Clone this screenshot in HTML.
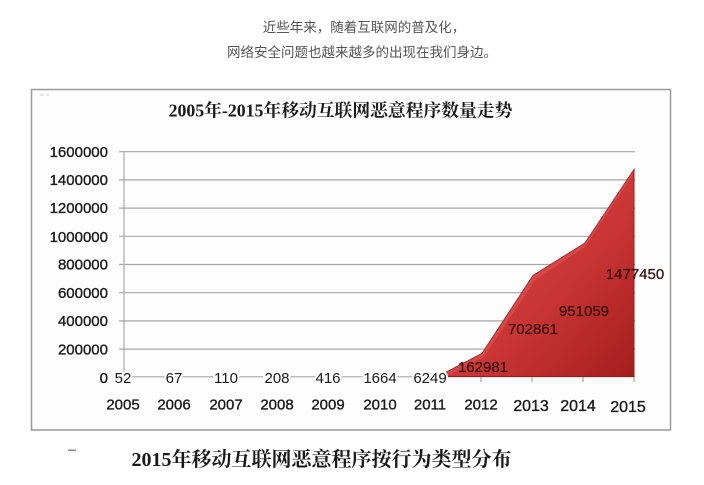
<!DOCTYPE html>
<html><head><meta charset="utf-8"><style>
html,body{margin:0;padding:0;background:#fff;}
body{width:704px;height:485px;overflow:hidden;position:relative;}
svg{position:absolute;left:0;top:0;}
</style></head><body>
<svg width="704" height="485" viewBox="0 0 704 485" xmlns="http://www.w3.org/2000/svg">
<defs>
<linearGradient id="rg" x1="0" y1="0" x2="1" y2="1">
<stop offset="0" stop-color="#df4d4d"/>
<stop offset="0.6" stop-color="#c93434"/>
<stop offset="1" stop-color="#a51d1d"/>
</linearGradient>
</defs>
<text x="364" y="32" text-anchor="middle" font-family="'Liberation Sans','Noto Sans CJK SC',sans-serif" font-size="13.5" fill="#555">近些年来，随着互联网的普及化，</text>
<text x="362" y="57" text-anchor="middle" font-family="'Liberation Sans','Noto Sans CJK SC',sans-serif" font-size="13.5" fill="#555">网络安全问题也越来越多的出现在我们身边。</text>

<rect x="31.5" y="89.5" width="639" height="340.5" fill="#fdfdfd" stroke="#9a9a9a" stroke-width="1.5"/>
<rect x="40" y="94" width="4" height="1.5" fill="#ddd"/><rect x="46" y="94" width="3" height="1.5" fill="#ddd"/>

<text x="340.5" y="116.5" text-anchor="middle" font-family="'Liberation Serif','Noto Serif CJK SC',serif" font-weight="bold" font-size="17.8" fill="#1a1a1a">2005年-2015年移动互联网恶意程序数量走势</text>

<g stroke="#a8a8a8" stroke-width="1.2">
<line x1="119" y1="151.7" x2="635" y2="151.7"/>
<line x1="119" y1="179.9" x2="635" y2="179.9"/>
<line x1="119" y1="208.1" x2="635" y2="208.1"/>
<line x1="119" y1="236.3" x2="635" y2="236.3"/>
<line x1="119" y1="264.5" x2="635" y2="264.5"/>
<line x1="119" y1="292.7" x2="635" y2="292.7"/>
<line x1="119" y1="320.9" x2="635" y2="320.9"/>
<line x1="119" y1="349.1" x2="635" y2="349.1"/>
<line x1="119" y1="376.8" x2="635" y2="376.8"/>
<line x1="124" y1="151.7" x2="124" y2="377"/>
<line x1="481" y1="377" x2="481" y2="382"/>
<line x1="532" y1="377" x2="532" y2="382"/>
<line x1="583" y1="377" x2="583" y2="382"/>
<line x1="634" y1="377" x2="634" y2="382"/>
</g>

<polygon points="438,376.5 482,353.5 533,275.5 585,243 634,169.5 634,376.5" fill="url(#rg)" stroke="#9a1c1c" stroke-width="1"/>
<polygon points="438,376.5 482,353.5 533,275.5 585,243 634,169.5 632,176 585,247 535,280 484,357 445,376.5" fill="#e86a6a" opacity="0.35"/>

<g font-family="'Liberation Sans',sans-serif" font-size="15" fill="#1a1a1a" stroke="#1a1a1a" stroke-width="0.35" text-anchor="end">
<text x="108" y="157">1600000</text>
<text x="108" y="185">1400000</text>
<text x="108" y="213">1200000</text>
<text x="108" y="242">1000000</text>
<text x="108" y="269.5">800000</text>
<text x="108" y="298">600000</text>
<text x="108" y="326">400000</text>
<text x="108" y="354.5">200000</text>
<text x="108" y="383">0</text>
</g>

<g font-family="'Liberation Sans',sans-serif" font-size="15" fill="#1a1a1a" text-anchor="middle" stroke="#fdfdfd" stroke-width="4" paint-order="stroke">
<text x="123" y="383">52</text>
<text x="174" y="383">67</text>
<text x="226" y="383">110</text>
<text x="277" y="383">208</text>
<text x="328" y="383">416</text>
<text x="380" y="383">1664</text>
<text x="430" y="383">6249</text>
</g>
<g font-family="'Liberation Sans',sans-serif" font-size="15" fill="#3a1212" stroke="#3a1212" stroke-width="0.3" text-anchor="middle">
<text x="483" y="372">162981</text>
<text x="533" y="334">702861</text>
<text x="584" y="316">951059</text>
<text x="635" y="279">1477450</text>
</g>

<g font-family="'Liberation Sans',sans-serif" font-size="15" fill="#1a1a1a" stroke="#1a1a1a" stroke-width="0.35" text-anchor="middle">
<text x="123" y="409.5">2005</text>
<text x="174" y="409.5">2006</text>
<text x="226" y="409.5">2007</text>
<text x="277" y="409.5">2008</text>
<text x="328" y="409.5">2009</text>
<text x="380" y="409.5">2010</text>
<text x="430" y="409.5">2011</text>
<text x="481" y="409.5">2012</text>
</g>
<g font-family="'Liberation Sans',sans-serif" font-size="16" fill="#1a1a1a" stroke="#1a1a1a" stroke-width="0.35" text-anchor="middle">
<text x="531" y="411">2013</text>
<text x="578" y="411">2014</text>
<text x="628" y="412">2015</text>
</g>

<rect x="68" y="449.5" width="8" height="1.5" fill="#888"/>
<text x="321.5" y="466" text-anchor="middle" font-family="'Liberation Serif','Noto Serif CJK SC',serif" font-weight="bold" font-size="20" fill="#1a1a1a">2015年移动互联网恶意程序按行为类型分布</text>
</svg>
</body></html>
